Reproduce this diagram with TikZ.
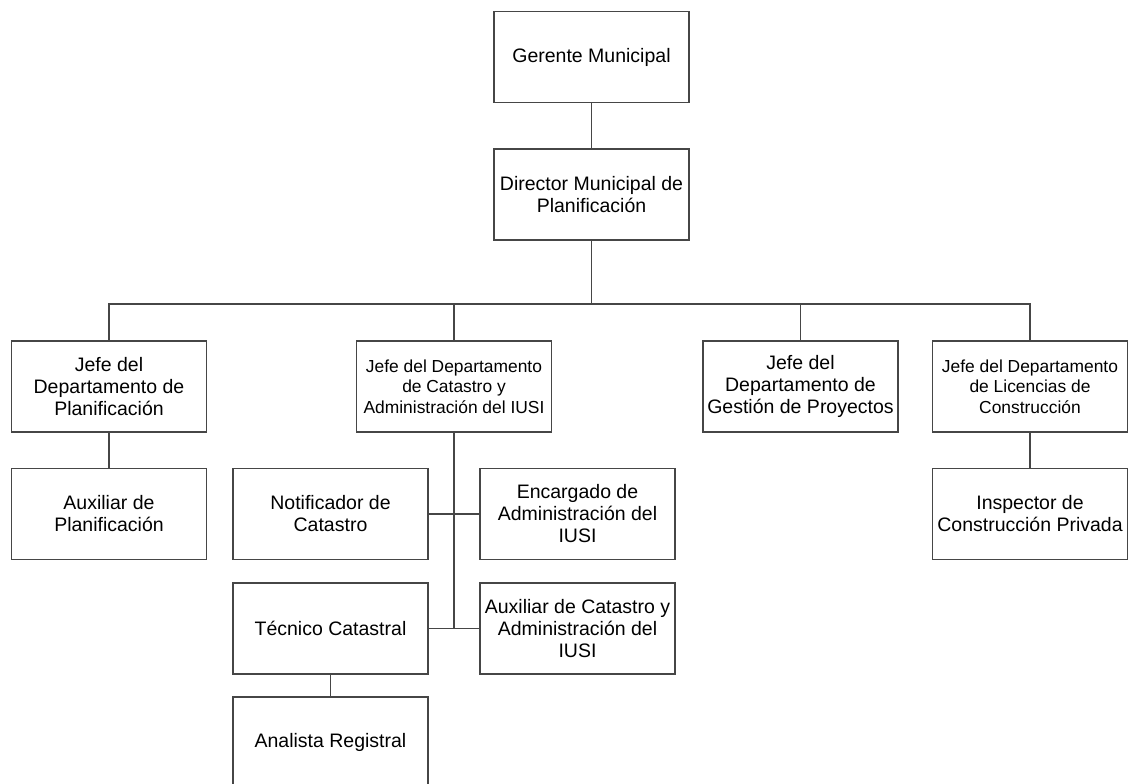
\documentclass[tikz,border=0pt]{standalone}
\usepackage{fontspec}
\setmainfont{Liberation Sans}
\definecolor{edge}{RGB}{70,70,70}
\tikzset{
  post/.style={draw=edge, line width=1.1pt, rectangle, minimum width=195pt,
    minimum height=91pt, inner sep=0pt, align=center,
    font=\fontsize{19.5}{22}\selectfont},
  postsmall/.style={post, font=\fontsize{17.4}{20.7}\selectfont},
  link/.style={draw=edge, line width=1.1pt}
}
\begin{document}
\begin{tikzpicture}[x=1pt,y=-1pt]
\useasboundingbox (0,0) rectangle (1130,784);
\clip (0,0) rectangle (1130,784);
\fill[white] (0,0) rectangle (1130,784);

% top of the hierarchy
\node[post] (ger) at (591.5,57) {Gerente Municipal};
\node[post] (dir) at (591.5,194.5) {Director Municipal de\\Planificación};

% department heads
\node[post] (jp) at (109,386.5) {Jefe del\\Departamento de\\Planificación};
\node[postsmall] (jc) at (454,386.5) {Jefe del Departamento\\de Catastro y\\Administración del IUSI};
\node[post] (jg) at (800.5,386.5) {Jefe del\\Departamento de\\Gestión de Proyectos};
\node[postsmall] (jl) at (1030,386.5) {Jefe del Departamento\\de Licencias de\\Construcción};

% staff
\node[post] (aux) at (109,514) {Auxiliar de\\Planificación};
\node[post] (not) at (330.5,514) {Notificador de\\Catastro};
\node[post] (enc) at (577.5,514) {Encargado de\\Administración del\\IUSI};
\node[post] (insp) at (1030,514) {Inspector de\\Construcción Privada};
\node[post] (tec) at (330.5,628.5) {Técnico Catastral};
\node[post] (auc) at (577.5,628.5) {Auxiliar de Catastro y\\Administración del\\IUSI};
\node[post] (ana) at (330.5,742.5) {Analista Registral};

\coordinate (bus) at (591.5,304);

% connectors
\draw[link] (ger.south) -- (dir.north);
\draw[link] (dir.south) -- (bus);
\draw[link] (jp.north) |- (bus) -| (jl.north);
\draw[link] (jc.north) -- (jc.north |- bus);
\draw[link] (jg.north) -- (jg.north |- bus);
\draw[link] (jp.south) -- (aux.north);
\draw[link] (jl.south) -- (insp.north);
\draw[link] (jc.south) -- (jc.south |- tec.east);
\draw[link] (not.east) -- (enc.west);
\draw[link] (tec.east) -- (auc.west);
\draw[link] (tec.south) -- (ana.north);
\end{tikzpicture}
\end{document}
